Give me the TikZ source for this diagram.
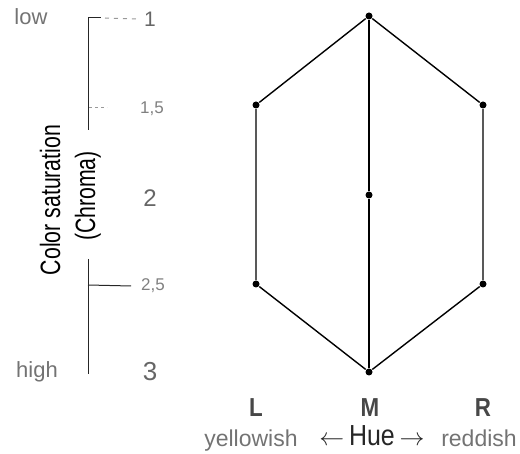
\documentclass[tikz,border=0pt]{standalone}
\usepackage{fontspec}
\setmainfont{Liberation Sans}
\newfontfamily\narrowfont{Liberation Sans}[FakeStretch=0.76]
\newfontfamily\semifont{Liberation Sans}[FakeStretch=0.86]
\usetikzlibrary{positioning}

\begin{document}
\begin{tikzpicture}[
    x=1pt, y=-1pt,
    line width=1.4pt,
    dot/.style={circle,fill=black,inner sep=0pt,minimum size=7pt},
    tickval/.style={text=black!50,font=\fontsize{17}{18}\selectfont},
    bigval/.style={text=black!60,font=\fontsize{24}{25}\selectfont},
    endlab/.style={text=black!55,anchor=base,font=\fontsize{22}{23}\selectfont},
    corner/.style={text=black!72,anchor=base,font=\semifont\bfseries\fontsize{26}{27}\selectfont},
    huelab/.style={text=black!55,anchor=base,font=\fontsize{23}{24}\selectfont},
    axislab/.style={rotate=90,font=\narrowfont\fontsize{28}{29}\selectfont}
  ]
    \useasboundingbox (0,0) rectangle (520,454);

    % Left: chroma axis
    \coordinate (axtop) at (88,18);
    \coordinate (axgap1) at (88,130);
    \coordinate (axgap2) at (88,259);
    \coordinate (axbot) at (88,374);
    \draw[black!85,line width=1pt] (axtop) -- (axgap1);
    \draw[black!85,line width=1pt] (axgap2) -- (axbot);

    \node[endlab] (low) at (31,25) {low};
    \node[endlab] (high) at (37,378) {high};

    \node[bigval,font=\fontsize{21}{22}\selectfont] (v1) at (150,19) {1};
    \node[tickval] (v15) at (152,109) {1,5};
    \node[bigval] (v2) at (150,198) {2};
    \node[tickval] (v25) at (153,286) {2,5};
    \node[bigval,font=\fontsize{26}{27}\selectfont] (v3) at (150,372) {3};

    % ticks
    \draw[black!85,line width=1pt] (axtop) -- ++(13,0) coordinate (t1);
    \draw[black!40,line width=1pt,dash pattern=on 4pt off 5pt] ([xshift=4pt]t1) -- ([xshift=-2pt]v1.west);
    \draw[black!40,line width=1pt,dash pattern=on 3pt off 3pt] (89,108) -- (107,108);
    \draw[black!85,line width=1pt] (88,285) -- ([xshift=-6pt]v25.west);

    \node[axislab] (sat) at (50,200) {Color saturation};
    \node[axislab] (chroma) at (88,196) {(Chroma)};

    % Right: hue hexagon
    \node[dot] (top) at (369,16) {};
    \node[dot] (ul) at (256,105) {};
    \node[dot] (ur) at (483,105) {};
    \node[dot] (mid) at (369,195) {};
    \node[dot] (ll) at (256,284) {};
    \node[dot] (lr) at (483,284) {};
    \node[dot] (bot) at (369,372) {};

    \draw (top) -- (ul) -- (ll) -- (bot) -- (lr) -- (ur) -- (top);
    \draw (top) -- (mid) -- (bot);

    \node[corner] (L) at (256,417) {L};
    \node[corner] (M) at (370,417) {M};
    \node[corner] (R) at (483,417) {R};

    \node[huelab] (yel) at (251,447) {yellowish};
    \node[huelab] (red) at (479,447) {reddish};
    \node[text=black!85,anchor=base,font=\semifont\fontsize{29}{30}\selectfont] (hue) at (372,446) {$\leftarrow$\,Hue\,$\rightarrow$};
\end{tikzpicture}
\end{document}
